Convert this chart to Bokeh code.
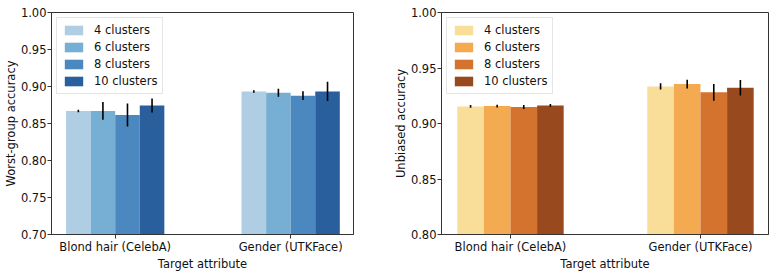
from bokeh.plotting import figure
from bokeh.layouts import row
from bokeh.models import ColumnDataSource, Range1d, FixedTicker, Legend, LegendItem
from bokeh.transform import dodge
from bokeh.embed import file_html
from bokeh.resources import INLINE

# ---- data ----
groups = ["Blond hair (CelebA)", "Gender (UTKFace)"]
series = ["4 clusters", "6 clusters", "8 clusters", "10 clusters"]

worst_mean = {
    "4 clusters": [0.867, 0.8934],
    "6 clusters": [0.867, 0.8916],
    "8 clusters": [0.8615, 0.8876],
    "10 clusters": [0.8743, 0.8934],
}
worst_err = {
    "4 clusters": [0.0017, 0.0017],
    "6 clusters": [0.012, 0.0055],
    "8 clusters": [0.0155, 0.006],
    "10 clusters": [0.0095, 0.013],
}
unb_mean = {
    "4 clusters": [0.9154, 0.9334],
    "6 clusters": [0.9157, 0.9355],
    "8 clusters": [0.9148, 0.9281],
    "10 clusters": [0.9163, 0.9322],
}
unb_err = {
    "4 clusters": [0.0013, 0.0028],
    "6 clusters": [0.0013, 0.004],
    "8 clusters": [0.0018, 0.0075],
    "10 clusters": [0.0012, 0.007],
}
blues = ["#afcde3", "#77afd4", "#4a88bf", "#2a5f9e"]
oranges = ["#f8de98", "#f3aa50", "#d3732e", "#984a1e"]
offsets = [-0.21, -0.07, 0.07, 0.21]
bar_width = 0.14

FONT = "DejaVu Sans"
FS = "11.5px"


def make_panel(means, errs, colors, ylabel, ystart, width, bl, br):
    p = figure(width=width, height=273, output_backend="svg", toolbar_location=None,
               x_range=Range1d(-0.363, 1.358), y_range=Range1d(ystart, 1.0),
               min_border_left=bl, min_border_right=br, min_border_top=12, min_border_bottom=30)
    items = []
    for s, c, off in zip(series, colors, offsets):
        m = means[s]
        e = errs[s]
        src = ColumnDataSource(dict(x=[0, 1], top=m,
                                    lo=[a - b for a, b in zip(m, e)],
                                    hi=[a + b for a, b in zip(m, e)]))
        r = p.vbar(x=dodge("x", off, range=p.x_range), top="top", bottom=ystart, width=bar_width,
                   source=src, fill_color=c, line_color=None)
        p.segment(x0=dodge("x", off, range=p.x_range), x1=dodge("x", off, range=p.x_range),
                  y0="lo", y1="hi", source=src, line_color="black", line_width=1.6)
        items.append(LegendItem(label=s, renderers=[r]))
    leg = Legend(items=items, location="top_left", margin=5, padding=5, spacing=3,
                 glyph_width=23, glyph_height=12, label_standoff=9,
                 label_text_font=FONT, label_text_font_size=FS, label_text_color="#111111",
                 border_line_color="#cccccc", border_line_width=1,
                 background_fill_alpha=0.85, label_height=12)
    p.add_layout(leg)

    p.xgrid.visible = False
    p.ygrid.visible = False
    p.xaxis.ticker = FixedTicker(ticks=[0, 1])
    p.xaxis.major_label_overrides = {0: groups[0], 1: groups[1]}
    p.xaxis.axis_label = "Target attribute"
    p.yaxis.axis_label = ylabel
    n = int(round((1.0 - ystart) / 0.05)) + 1
    yt = [round(ystart + 0.05 * i, 2) for i in range(n)]
    p.yaxis.ticker = FixedTicker(ticks=yt)
    p.yaxis.major_label_overrides = {t: "%.2f" % t for t in yt}
    for ax in (p.xaxis[0], p.yaxis[0]):
        ax.axis_label_text_font = FONT
        ax.axis_label_text_font_size = FS
        ax.axis_label_text_font_style = "normal"
        ax.axis_label_text_color = "#111111"
        ax.major_label_text_font = FONT
        ax.major_label_text_font_size = FS
        ax.major_label_text_color = "#111111"
        ax.axis_line_color = "#333333"
        ax.major_tick_line_color = "#333333"
        ax.major_tick_out = 4
        ax.major_tick_in = 0
        ax.minor_tick_line_color = None
        ax.axis_label_standoff = 0
        ax.major_label_standoff = 1
    p.outline_line_color = "#333333"
    p.outline_line_width = 1
    p.outline_line_alpha = 1.0
    return p


p1 = make_panel(worst_mean, worst_err, blues, "Worst-group accuracy", 0.70, 390, 46, 37)
p2 = make_panel(unb_mean, unb_err, oranges, "Unbiased accuracy", 0.80, 388, 49, 10)

layout = row(p1, p2)
open("out.html", "w").write(file_html(layout, INLINE))
